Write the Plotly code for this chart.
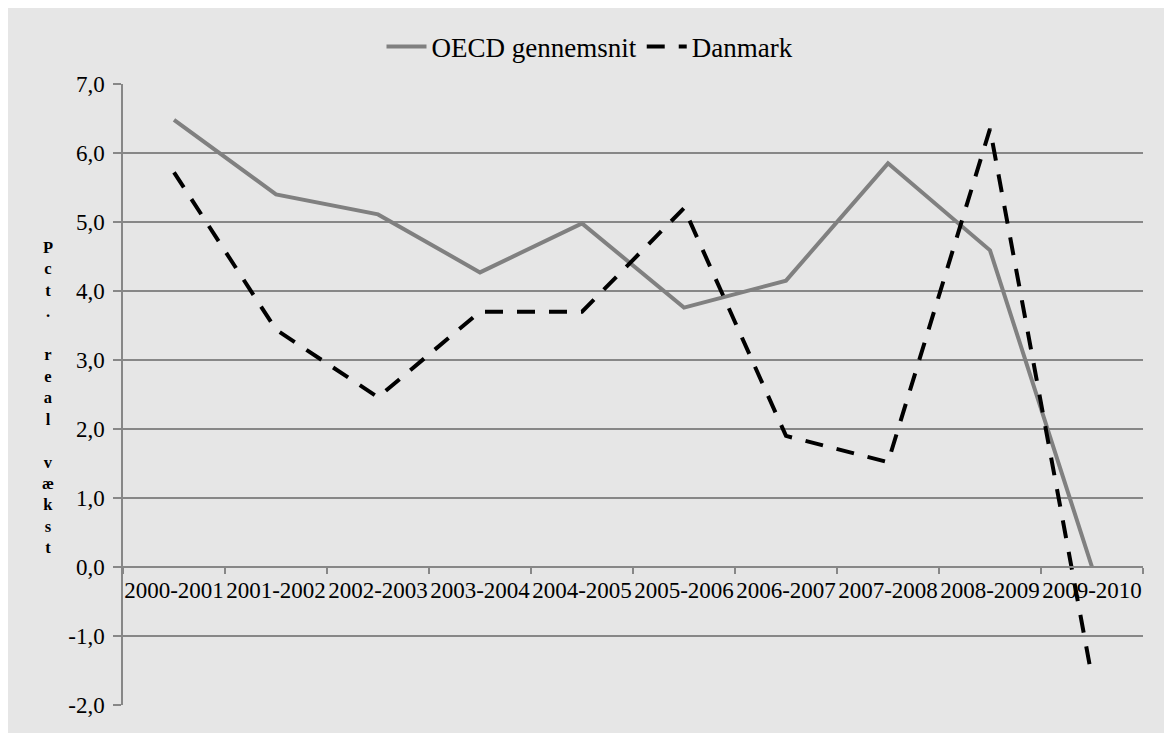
import plotly.graph_objects as go

categories = ["2000-2001", "2001-2002", "2002-2003", "2003-2004", "2004-2005",
              "2005-2006", "2006-2007", "2007-2008", "2008-2009", "2009-2010"]
oecd = [6.48, 5.40, 5.11, 4.27, 4.98, 3.76, 4.15, 5.85, 4.59, 0.0]
danmark = [5.72, 3.44, 2.46, 3.70, 3.70, 5.20, 1.90, 1.52, 6.35, -1.60]
y_tickvals = [-2, -1, 0, 1, 2, 3, 4, 5, 6, 7]
y_ticktext = ["-2,0", "-1,0", "0,0", "1,0", "2,0", "3,0", "4,0", "5,0", "6,0", "7,0"]
y_title = "Pct. real vækst"

# page body has an 8px margin; work in page pixel coordinates and shift
OFF = 8
W, H = 1172 - OFF, 739 - OFF
L = 123 - OFF
R = W - (1143 - OFF)
T = 84 - OFF
B = H - (705 - OFF)
pw, ph = W - L - R, H - T - B

def px_x(p):
    return (p - OFF - L) / pw

def px_y(p):
    return (T + ph - (p - OFF)) / ph

GRID = "#878787"
BG = "#e6e6e6"
FONT = "Liberation Serif, Times New Roman, serif"

fig = go.Figure()
fig.add_trace(go.Scatter(x=categories, y=oecd, name="OECD gennemsnit", mode="lines",
                         line=dict(color="#808080", width=4)))
fig.add_trace(go.Scatter(x=categories, y=danmark, name="Danmark", mode="lines",
                         line=dict(color="#000000", width=4, dash="18px,14px")))

ymin, ymax = -2, 7
fig.update_layout(
    width=W, height=H,
    margin=dict(l=L, r=R, t=T, b=B, pad=0),
    paper_bgcolor="white",
    plot_bgcolor=BG,
    font=dict(family=FONT, color="#000000", size=22),
    showlegend=True,
    legend=dict(orientation="h", x=px_x(590), y=px_y(47), xanchor="center", yanchor="middle",
                font=dict(family=FONT, size=27, color="#000000"), bgcolor="rgba(0,0,0,0)",
                itemwidth=40, tracegroupgap=0),
    xaxis=dict(type="category", anchor="free", position=(0 - ymin) / (ymax - ymin),
               showgrid=False, showline=True, linecolor=GRID, linewidth=1.5,
               ticks="outside", ticklen=6, tickcolor=GRID, tickwidth=1.5,
               tickson="boundaries", tickangle=0, ticklabelstandoff=3,
               tickfont=dict(family=FONT, size=23, color="#000000"),
               zeroline=False, range=[-0.5, 9.5]),
    yaxis=dict(range=[ymin, ymax], tickvals=y_tickvals, ticktext=y_ticktext,
               showgrid=True, gridcolor=GRID, gridwidth=1.5,
               showline=True, linecolor=GRID, linewidth=1.5,
               ticks="outside", ticklen=8, tickcolor=GRID, tickwidth=1.5,
               zeroline=False, ticklabelstandoff=4,
               tickfont=dict(family=FONT, size=23, color="#000000")),
    shapes=[dict(type="rect", xref="paper", yref="paper", layer="below",
                 x0=px_x(5), x1=px_x(1167), y0=px_y(733), y1=px_y(4),
                 fillcolor=BG, line=dict(width=0))],
    annotations=[dict(text="<br>".join("<b>" + (c if c != " " else "\u00a0") + "</b>" for c in y_title),
                      xref="paper", yref="paper", x=px_x(48), y=px_y(397),
                      xanchor="center", yanchor="middle", showarrow=False, align="center",
                      font=dict(family=FONT, size=16.5, color="#000000"))],
)

fig.write_html("out.html")
